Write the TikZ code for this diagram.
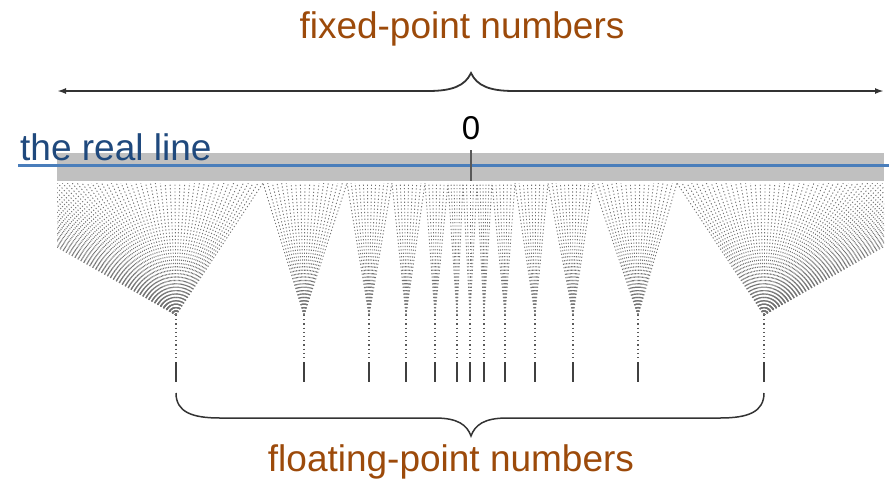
\documentclass[tikz,border=0pt]{standalone}
\usepackage{xcolor}
\usepackage{fontspec}
\setmainfont{Liberation Sans}
\usetikzlibrary{arrows.meta, positioning, calc}

\definecolor{fpbrown}{RGB}{156,74,10}
\definecolor{linenavy}{RGB}{31,73,125}
\definecolor{lineblue}{RGB}{74,126,187}
\definecolor{bandgray}{RGB}{192,192,192}

\begin{document}
\begin{tikzpicture}[x=1pt, y=-1pt,
    every node/.style={font=\fontsize{37}{44}\selectfont, inner sep=0pt},
    fanray/.style={black!55, line width=0.9pt, dash pattern=on 1.2pt off 2.2pt},
    stem/.style={black!65, line width=1.2pt, dash pattern=on 1.2pt off 3pt},
    fptick/.style={black!75, line width=1.8pt},
    bracepath/.style={black!80, line width=1.5pt}]
    \useasboundingbox (0,0) rectangle (889,480);

    % Labels
    \node[anchor=base, text=fpbrown] (fixed) at (462,38) {fixed-point numbers};
    \node[anchor=base, text=fpbrown] (float) at (451,471) {floating-point numbers};

    % Real line
    \fill[bandgray] (57,153) rectangle (884,181);
    \draw[lineblue, line width=3pt] (18,165) -- (889,165);
    \node[anchor=base west, text=linenavy] (real) at (20,160) {the real line};
    \node[anchor=base, font=\fontsize{33}{40}\selectfont] (zero) at (471,139) {0};
    \draw[black!65, line width=2pt] (471,150) -- (471,181);

    % Fixed-point arrow with brace
    \coordinate (fixL) at (57,91);
    \coordinate (fixR) at (884,91);
    \coordinate (fixTip) at (471,73);
    \draw[bracepath, line width=1.8pt, {Latex[length=9pt,width=6pt]}-{Latex[length=9pt,width=6pt]}]
        (fixL) -- (428,91) .. controls (452,91) and (465,86) .. (fixTip)
        .. controls (477,86) and (490,91) .. (514,91) -- (fixR);

    % Fans: focus / left end / right end on the line
    \begin{scope}
        \clip (57,183) rectangle (884,362);
        \foreach \fx/\fa/\fb in {176/-55/263, 304/263/347, 369/347/392,
                406/392/425, 435/425/448, 457/448/463, 470/463/477,
                484/477/492, 505/492/515, 535/515/548, 573/548/593,
                638/593/677, 764/677/995} {
            \pgfmathtruncatemacro\n{(\fb-\fa)/5+2}
            \foreach \i in {0,...,\n} {
                \draw[fanray] (\fx,315) -- ({\fa+(\i/\n)*(\fb-\fa)},183);
            }
            \draw[stem] (\fx,315) -- (\fx,360);
        }
    \end{scope}

    % Floating-point numbers
    \foreach \fx in {176,304,369,406,435,457,470,484,505,535,573,638,764}
        \draw[fptick] (\fx,362) -- (\fx,382);

    % Brace below
    \coordinate (floL) at (176,393);
    \coordinate (floR) at (764,393);
    \coordinate (floTip) at (471,436);
    \draw[bracepath] (floL) .. controls (176,412) and (192,418) .. (220,418)
        -- (435,418) .. controls (458,418) and (467,425) .. (floTip)
        .. controls (475,425) and (484,418) .. (507,418)
        -- (720,418) .. controls (748,418) and (764,412) .. (floR);
\end{tikzpicture}
\end{document}
